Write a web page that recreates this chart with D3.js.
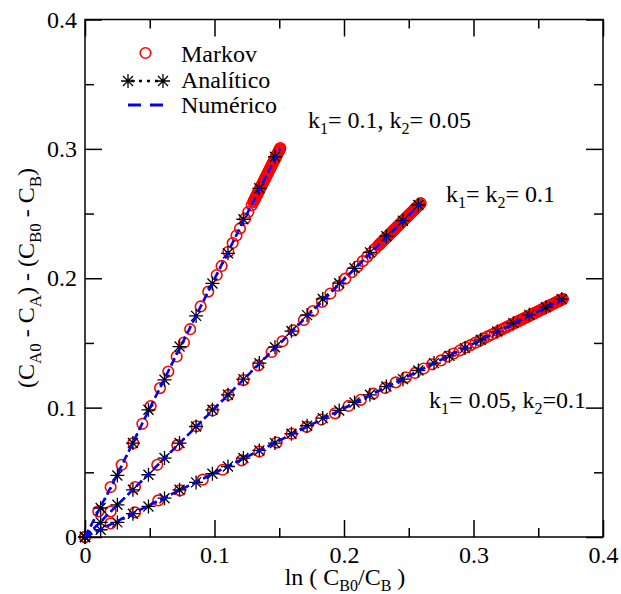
<!DOCTYPE html>
<html>
<head>
<meta charset="utf-8">
<style>
    body { margin: 0; background: #fff; }
    svg { display: block; }
    text { font-family: "Liberation Serif", "DejaVu Serif", serif; fill: #000; }
</style>
</head>
<body>
<svg width="621" height="594"></svg>
<script src="https://cdn.jsdelivr.net/npm/d3@7"></script>
<script>
// analytic solution: x values shared by the three curves
let analyticX = [0, 0.0121, 0.0250, 0.0370, 0.0490, 0.0614, 0.0730, 0.0858, 0.0984, 0.1104,
    0.1223, 0.1346, 0.1467, 0.1594, 0.1715, 0.1836, 0.1963, 0.2081, 0.2200, 0.2327,
    0.2455, 0.2574, 0.2695, 0.2814, 0.2934, 0.3056, 0.3184, 0.3308, 0.3431, 0.3560, 0.3681]
let analyticY1 = [0, 0.0224, 0.0476, 0.0726, 0.0983, 0.1215, 0.1472, 0.1709, 0.1960, 0.2193,
    0.2456, 0.2695, 0.2939]
let analyticY2 = [0, 0.0113, 0.0249, 0.0365, 0.0481, 0.0610, 0.0726, 0.0854, 0.0983, 0.1099,
    0.1220, 0.1344, 0.1467, 0.1592, 0.1715, 0.1840, 0.1962, 0.2077, 0.2200, 0.2325, 0.2445, 0.2566]
let analyticY3 = [0, 0.0056, 0.0113, 0.0180, 0.0236, 0.0300, 0.0365, 0.0422, 0.0489, 0.0545,
    0.0610, 0.0669, 0.0726, 0.0798, 0.0860, 0.0919, 0.0978, 0.1040, 0.1099, 0.1163,
    0.1220, 0.1287, 0.1344, 0.1400, 0.1460, 0.1524, 0.1588, 0.1653, 0.1717, 0.1776, 0.1838]

// markov simulation (gets dense near the end)
let markovX1 = [0, 0.0103, 0.0198, 0.0283, 0.0373, 0.0443, 0.0507, 0.0579, 0.0643, 0.0708,
    0.0764, 0.0812, 0.0893, 0.0952, 0.1017, 0.1055, 0.1107, 0.1140, 0.1170, 0.1197,
    0.1236, 0.1261, 0.1287,
    0.1300, 0.1305, 0.1310, 0.1315, 0.1320, 0.1325, 0.1330, 0.1335, 0.1340, 0.1345,
    0.1350, 0.1355, 0.1360, 0.1365, 0.1370, 0.1375, 0.1380, 0.1385, 0.1390, 0.1395,
    0.1400, 0.1405, 0.1410, 0.1415, 0.1420, 0.1425, 0.1430, 0.1435, 0.1440, 0.1445,
    0.1450, 0.1455, 0.1460, 0.1465, 0.1470, 0.1475, 0.1480, 0.1485, 0.1490, 0.1495,
    0.1500, 0.1504, 0.1508]
let markovY1 = [0, 0.0198, 0.0386, 0.0558, 0.0726, 0.0875, 0.1012, 0.1151, 0.1279, 0.1395,
    0.1503, 0.1606, 0.1782, 0.1897, 0.2025, 0.2095, 0.2205, 0.2272, 0.2330, 0.2385,
    0.2462, 0.2512, 0.2564,
    0.2590, 0.2600, 0.2610, 0.2620, 0.2630, 0.2640, 0.2650, 0.2660, 0.2670, 0.2680,
    0.2690, 0.2700, 0.2710, 0.2720, 0.2730, 0.2740, 0.2750, 0.2760, 0.2770, 0.2780,
    0.2790, 0.2800, 0.2810, 0.2820, 0.2830, 0.2840, 0.2850, 0.2860, 0.2870, 0.2880,
    0.2890, 0.2900, 0.2910, 0.2920, 0.2930, 0.2940, 0.2950, 0.2960, 0.2970, 0.2980,
    0.2990, 0.2998, 0.3006]

let markovX2 = [0, 0.0198, 0.0386, 0.0558, 0.0713, 0.0862, 0.0986, 0.1107, 0.1223, 0.1338,
    0.1441, 0.1525, 0.1609, 0.1690, 0.1760, 0.1830, 0.1895, 0.1955, 0.2010, 0.2060,
    0.2105, 0.2145, 0.2180, 0.2212, 0.2240,
    0.2264, 0.2272, 0.2280, 0.2288, 0.2296, 0.2304, 0.2312, 0.2320, 0.2328, 0.2336,
    0.2344, 0.2352, 0.2360, 0.2368, 0.2376, 0.2384, 0.2392, 0.2400, 0.2408, 0.2416,
    0.2424, 0.2432, 0.2440, 0.2448, 0.2456, 0.2464, 0.2472, 0.2480, 0.2488, 0.2496,
    0.2504, 0.2512, 0.2520, 0.2528, 0.2536, 0.2544, 0.2552, 0.2560, 0.2568, 0.2576,
    0.2584, 0.2592]
let markovY2 = [0, 0.0198, 0.0386, 0.0558, 0.0710, 0.0856, 0.0978, 0.1098, 0.1213, 0.1327,
    0.1430, 0.1513, 0.1597, 0.1677, 0.1747, 0.1817, 0.1882, 0.1942, 0.1997, 0.2047,
    0.2092, 0.2132, 0.2167, 0.2199, 0.2227,
    0.2252, 0.2260, 0.2268, 0.2276, 0.2284, 0.2292, 0.2300, 0.2308, 0.2316, 0.2324,
    0.2332, 0.2340, 0.2348, 0.2356, 0.2364, 0.2372, 0.2380, 0.2388, 0.2396, 0.2404,
    0.2412, 0.2420, 0.2428, 0.2436, 0.2444, 0.2452, 0.2460, 0.2468, 0.2476, 0.2484,
    0.2492, 0.2500, 0.2508, 0.2516, 0.2524, 0.2532, 0.2540, 0.2548, 0.2556, 0.2564,
    0.2572, 0.2580]

let markovX3 = [0, 0.0198, 0.0386, 0.0566, 0.0734, 0.0909, 0.1063, 0.1210, 0.1346, 0.1480,
    0.1596, 0.1712, 0.1825, 0.1931, 0.2035, 0.2130, 0.2225, 0.2317, 0.2400, 0.2478,
    0.2549, 0.2615, 0.2680, 0.2749, 0.2800, 0.2847, 0.2895, 0.2940, 0.2977, 0.3015,
    0.3050, 0.3080, 0.3110, 0.3140, 0.3165, 0.3190, 0.3212, 0.3234, 0.3254, 0.3274,
    0.3292, 0.3310, 0.3328, 0.3345, 0.3360,
    0.3370, 0.3380, 0.3390, 0.3400, 0.3410, 0.3420, 0.3430, 0.3440, 0.3450, 0.3460,
    0.3470, 0.3480, 0.3490, 0.3500, 0.3510, 0.3520, 0.3530, 0.3540, 0.3550, 0.3560,
    0.3570, 0.3580, 0.3590, 0.3600, 0.3610, 0.3620, 0.3630, 0.3640, 0.3650, 0.3660,
    0.3670, 0.3680, 0.3690]
let markovY3 = [0, 0.0105, 0.0190, 0.0283, 0.0360, 0.0443, 0.0520, 0.0592, 0.0661, 0.0730,
    0.0798, 0.0851, 0.0908, 0.0956, 0.1013, 0.1060, 0.1108, 0.1152, 0.1195, 0.1234,
    0.1268, 0.1302, 0.1335, 0.1365, 0.1395, 0.1418, 0.1442, 0.1465, 0.1483, 0.1502,
    0.1520, 0.1535, 0.1550, 0.1565, 0.1577, 0.1590, 0.1601, 0.1612, 0.1622, 0.1632,
    0.1641, 0.1650, 0.1659, 0.1668, 0.1675,
    0.1680, 0.1685, 0.1690, 0.1695, 0.1700, 0.1705, 0.1710, 0.1715, 0.1720, 0.1725,
    0.1730, 0.1735, 0.1740, 0.1745, 0.1750, 0.1755, 0.1760, 0.1765, 0.1770, 0.1775,
    0.1780, 0.1785, 0.1790, 0.1795, 0.1800, 0.1805, 0.1810, 0.1815, 0.1820, 0.1825,
    0.1830, 0.1835, 0.1840]

// numerical solution
let numericX1 = [0, 0.025, 0.05, 0.075, 0.1, 0.125, 0.1508]
let numericY1 = [0, 0.0485, 0.0995, 0.1495, 0.1995, 0.2495, 0.3006]
let numericX2 = [0, 0.05, 0.1, 0.15, 0.2, 0.2592]
let numericY2 = [0, 0.0495, 0.0993, 0.1492, 0.1990, 0.2580]
let numericX3 = [0, 0.1, 0.2, 0.3, 0.369]
let numericY3 = [0, 0.0495, 0.0995, 0.1495, 0.1840]

let majorTicks = [0, 0.1, 0.2, 0.3, 0.4]
let minorTicks = [0.05, 0.15, 0.25, 0.35]
let legendLabels = ["Markov", "Analítico", "Numérico"]

let svg = d3.select("svg")
svg.append("rect").attr("width", 621).attr("height", 594).attr("fill", "#fff")

let x = d3.scaleLinear().domain([0, 0.4]).range([85, 603])
let y = d3.scaleLinear().domain([0, 0.4]).range([537, 19.5])

let fmt = d => d === 0 ? "0" : d3.format(".1f")(d)

// axes, ticks pointing inwards on all four sides
function drawAxis(axis, tx, ty, labels) {
    let g = svg.append("g").attr("transform", `translate(${tx},${ty})`).call(axis)
    g.select(".domain").remove()
    g.selectAll("line").attr("stroke", "#000").attr("stroke-width", 1.5)
    g.selectAll("text").style("font-size", "24px").attr("fill", "#000")
        .style("font-family", '"Liberation Serif", serif')
    if (!labels) g.selectAll("text").remove()
    return g
}

drawAxis(d3.axisBottom(x).tickValues(majorTicks).tickSize(-17).tickPadding(9).tickFormat(fmt), 0, 537, true)
drawAxis(d3.axisBottom(x).tickValues(minorTicks).tickSize(-9), 0, 537, false)
drawAxis(d3.axisTop(x).tickValues(majorTicks).tickSize(-17), 0, 19.5, false)
drawAxis(d3.axisTop(x).tickValues(minorTicks).tickSize(-9), 0, 19.5, false)
drawAxis(d3.axisLeft(y).tickValues(majorTicks).tickSize(-17).tickPadding(8).tickFormat(fmt), 85, 0, true)
drawAxis(d3.axisLeft(y).tickValues(minorTicks).tickSize(-9), 85, 0, false)
drawAxis(d3.axisRight(y).tickValues(majorTicks).tickSize(-17), 603, 0, false)
drawAxis(d3.axisRight(y).tickValues(minorTicks).tickSize(-9), 603, 0, false)

svg.append("rect")
    .attr("x", x(0)).attr("y", y(0.4))
    .attr("width", x(0.4) - x(0)).attr("height", y(0) - y(0.4))
    .attr("fill", "none").attr("stroke", "#000").attr("stroke-width", 1.5)

let line = d3.line().x(d => x(d[0])).y(d => y(d[1]))

let analytic = [d3.zip(analyticX, analyticY1), d3.zip(analyticX, analyticY2), d3.zip(analyticX, analyticY3)]
let markov = [d3.zip(markovX1, markovY1), d3.zip(markovX2, markovY2), d3.zip(markovX3, markovY3)]
let numeric = [d3.zip(numericX1, numericY1), d3.zip(numericX2, numericY2), d3.zip(numericX3, numericY3)]

let starPath = "M-7,0H7M0,-7V7M-5,-5L5,5M-5,5L5,-5"

let plot = svg.append("g")

// dotted line of the analytic curves
plot.selectAll(".ana-line")
    .data(analytic)
    .join("path")
    .attr("class", "ana-line")
    .attr("d", line)
    .attr("fill", "none")
    .attr("stroke", "#000")
    .attr("stroke-width", 2)
    .attr("stroke-dasharray", "2,4")

markov.forEach(function (s) {
    plot.append("g").selectAll("circle")
        .data(s)
        .join("circle")
        .attr("cx", d => x(d[0]))
        .attr("cy", d => y(d[1]))
        .attr("r", 5.3)
        .attr("fill", "none")
        .attr("stroke", "#ff0000")
        .attr("stroke-width", 1.6)
})

analytic.forEach(function (s) {
    plot.append("g").selectAll("path")
        .data(s)
        .join("path")
        .attr("transform", d => `translate(${x(d[0])},${y(d[1])})`)
        .attr("d", starPath)
        .attr("stroke", "#000")
        .attr("stroke-width", 1.3)
})

plot.selectAll(".num-line")
    .data(numeric)
    .join("path")
    .attr("class", "num-line")
    .attr("d", line)
    .attr("fill", "none")
    .attr("stroke", "#0000ff")
    .attr("stroke-width", 2.6)
    .attr("stroke-dasharray", "8,4")

// legend
let legend = svg.append("g")
legend.append("circle")
    .attr("cx", 145.5).attr("cy", 53).attr("r", 5.3)
    .attr("fill", "none").attr("stroke", "#ff0000").attr("stroke-width", 1.6)
legend.append("line")
    .attr("x1", 128).attr("x2", 163).attr("y1", 81).attr("y2", 81)
    .attr("stroke", "#000").attr("stroke-width", 2.5).attr("stroke-dasharray", "3,5")
    .attr("stroke-dashoffset", -11)
legend.selectAll(".leg-star")
    .data([128, 163])
    .join("path")
    .attr("transform", d => `translate(${d},81)`)
    .attr("d", starPath)
    .attr("stroke", "#000").attr("stroke-width", 1.3)
legend.append("line")
    .attr("x1", 128).attr("x2", 163).attr("y1", 105).attr("y2", 105)
    .attr("stroke", "#0000ff").attr("stroke-width", 3).attr("stroke-dasharray", "13,9")
legend.selectAll(".leg-text")
    .data(legendLabels)
    .join("text")
    .attr("x", 181)
    .attr("y", (d, i) => 62 + i * 25.5)
    .style("font-size", "24px")
    .text(d => d)

// text with subscripts: parts are [text, isSub]
function richText(g, parts, size, subSize, shift) {
    let down = false
    parts.forEach(function (p) {
        let t = g.append("tspan").text(p[0])
        if (p[1] && !down) { t.attr("dy", shift); down = true }
        else if (!p[1] && down) { t.attr("dy", -shift); down = false }
        t.style("font-size", (p[1] ? subSize : size) + "px")
    })
}

let ann = [
    { x: 308, y: 128, parts: [["k"], ["1", 1], ["= 0.1, k"], ["2", 1], ["= 0.05"]] },
    { x: 446, y: 202, parts: [["k"], ["1", 1], ["= k"], ["2", 1], ["= 0.1"]] },
    { x: 429, y: 408, parts: [["k"], ["1", 1], ["= 0.05, k"], ["2", 1], ["=0.1"]] }
]
ann.forEach(function (a) {
    let t = svg.append("text").attr("x", a.x).attr("y", a.y)
    richText(t, a.parts, 24, 16, 6)
})

// axis titles
let xTitle = svg.append("text")
    .attr("x", 345).attr("y", 585)
    .attr("text-anchor", "middle")
richText(xTitle, [["ln ( C"], ["B0", 1], ["/C"], ["B", 1], [" )"]], 24, 16, 6)

let yTitle = svg.append("text")
    .attr("transform", "translate(34,278) rotate(-90)")
    .attr("text-anchor", "middle")
richText(yTitle, [["(C"], ["A0", 1], [" - C"], ["A", 1], [") - (C"], ["B0", 1], [" - C"], ["B", 1], [")"]], 24, 17, 7)
</script>
</body>
</html>
